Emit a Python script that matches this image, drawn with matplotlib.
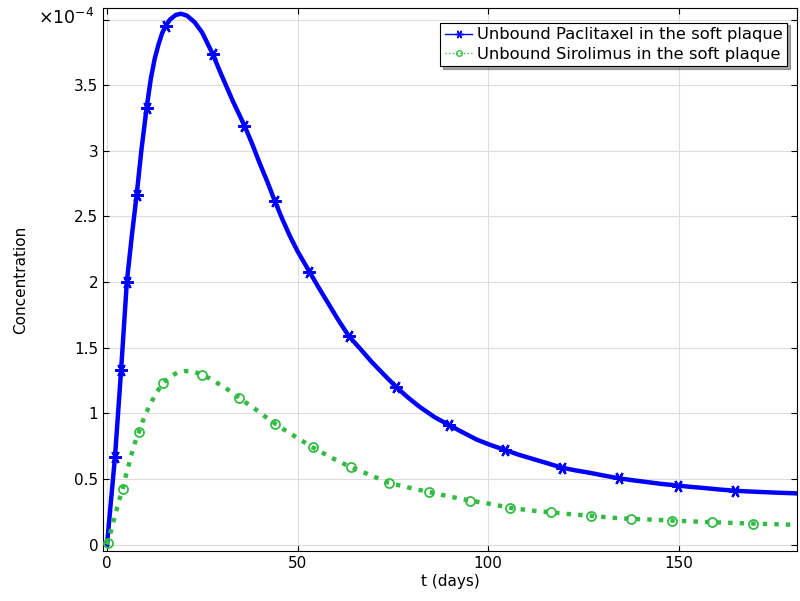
import numpy as np
import matplotlib
matplotlib.use("Agg")
import matplotlib.pyplot as plt

# curve values, concentration in units of 1e-4
t_pac = [0, 1, 2.1, 3.7, 5.2, 6.5, 7.8, 9, 10.4, 11.5, 12.5, 13.5, 14.5, 15.4, 16.5,
         18, 19.4, 21, 23, 25, 27.7, 30, 33, 36.1, 38, 40, 42, 44, 46, 48, 50, 53.1,
         55.5, 58, 60.5, 63.4, 66.5, 69.5, 72.5, 75.9, 79, 82, 86, 89.8, 93, 97,
         100.5, 104.5, 108, 112, 115.5, 119.3, 123, 127, 130.5, 134.3, 138, 142,
         145.5, 149.7, 153, 157, 160.5, 164.8, 168, 172, 176, 181]
c_pac = [0, 0.32, 0.67, 1.33, 2.0, 2.35, 2.67, 3.0, 3.33, 3.55, 3.7, 3.81, 3.9, 3.955,
         4.0, 4.035, 4.045, 4.03, 3.98, 3.9, 3.74, 3.58, 3.38, 3.19, 3.06, 2.91, 2.77,
         2.62, 2.48, 2.35, 2.235, 2.08, 1.96, 1.84, 1.72, 1.59, 1.49, 1.39, 1.30, 1.2,
         1.12, 1.05, 0.97, 0.91, 0.86, 0.80, 0.76, 0.72, 0.685, 0.65, 0.62, 0.586,
         0.565, 0.545, 0.525, 0.505, 0.49, 0.475, 0.462, 0.45, 0.44, 0.43, 0.42,
         0.41, 0.405, 0.40, 0.395, 0.39]

t_sir = [0, 1, 2, 3, 4.1, 5, 6, 7, 8.4, 9.5, 11, 12.8, 14.7, 16.5, 18.5, 20.5, 22.5,
         24.9, 27, 29, 31.5, 34.6, 37, 39, 41.5, 44.2, 46.5, 49, 51.5, 54, 56.5, 59,
         61.5, 63.9, 66.5, 69, 71.5, 74, 79, 84.6, 90, 95.3, 100.5, 105.8, 111, 116.4,
         122, 126.9, 132, 137.6, 143, 148.3, 153, 158.7, 164, 169.4, 175, 181]
c_sir = [0, 0.1, 0.21, 0.32, 0.425, 0.53, 0.64, 0.75, 0.86, 0.95, 1.05, 1.15, 1.23,
         1.28, 1.31, 1.322, 1.32, 1.295, 1.265, 1.23, 1.185, 1.12, 1.07, 1.03, 0.975,
         0.92, 0.875, 0.83, 0.785, 0.74, 0.70, 0.66, 0.625, 0.59, 0.56, 0.53, 0.50,
         0.47, 0.435, 0.40, 0.365, 0.335, 0.31, 0.28, 0.26, 0.246, 0.23, 0.22, 0.205,
         0.196, 0.19, 0.183, 0.177, 0.17, 0.165, 0.16, 0.155, 0.15]

# marker positions
tm_pac = [2.1, 3.7, 5.2, 7.8, 10.4, 15.4, 27.7, 35.9, 44.2, 53.1, 63.4, 75.9, 89.8,
          104.5, 119.3, 134.3, 149.7, 164.8]
cm_pac = [0.67, 1.33, 2.0, 2.66, 3.33, 3.955, 3.74, 3.19, 2.62, 2.08, 1.59, 1.2, 0.91,
          0.72, 0.586, 0.505, 0.45, 0.41]
tm_sir = [0.3, 4.1, 8.4, 14.7, 24.9, 34.6, 44.2, 54, 63.9, 74, 84.6, 95.3, 105.8,
          116.4, 126.9, 137.6, 148.3, 158.7, 169.4]
cm_sir = [0.01, 0.425, 0.86, 1.23, 1.295, 1.12, 0.92, 0.74, 0.59, 0.47, 0.40, 0.335,
          0.28, 0.246, 0.22, 0.196, 0.183, 0.17, 0.16]

labels = ["Unbound Paclitaxel in the soft plaque", "Unbound Sirolimus in the soft plaque"]
blue = "#0000ff"
green = "#33bb44"

plt.rcParams['font.family'] = ['DejaVu Sans']
fig = plt.figure(figsize=(8, 6.01), dpi=100)
ax = fig.add_axes([0.129, 0.083, 0.867, 0.904])

ax.plot(t_pac, c_pac, color=blue, lw=3.2, zorder=3, solid_joinstyle="round")
ax.plot(tm_pac, cm_pac, ls="none", marker=(6, 2, 90), ms=9, mew=1.6, color=blue, zorder=4)
ax.plot(t_sir, c_sir, color=green, lw=3.2, ls=(0, (1, 1.6)), zorder=3)
ax.plot(tm_sir, cm_sir, ls="none", marker="o", ms=6.5, mew=1.3, mfc="none",
        color=green, zorder=4)

# legend proxies
h1, = ax.plot([], [], color=blue, lw=1, marker=(6, 2, 90), ms=6)
h2, = ax.plot([], [], color=green, lw=1, ls=":", marker="o", ms=4, mfc="none")
leg = ax.legend([h1, h2], labels, loc="upper right", fontsize=11.8, fancybox=False,
                shadow=True, framealpha=1, edgecolor="black", handlelength=1.6,
                handletextpad=0.3, borderpad=0.3, labelspacing=0.25,
                bbox_to_anchor=(0.998, 0.988))
leg.get_frame().set_linewidth(0.8)

ax.set_xlim(-1, 181)
ax.set_ylim(-0.05, 4.09)
ax.set_xticks([0, 50, 100, 150])
ax.set_yticks([0, 0.5, 1, 1.5, 2, 2.5, 3, 3.5, 4])
ax.set_yticklabels(["0", "0.5", "1", "1.5", "2", "2.5", "3", "3.5", ""])
ax.tick_params(direction="in", labelsize=11, top=True, right=True, length=4)
ax.grid(color="#dddddd", lw=0.8)
ax.set_axisbelow(True)
ax.set_xlabel("t (days)", fontsize=11, labelpad=2)
ax.set_ylabel("Concentration", fontsize=11, labelpad=33)
fig.text(0.048, 0.96, r"$\times$10$^{-4}$", fontsize=12.5)

fig.savefig("out.png", dpi=100)
